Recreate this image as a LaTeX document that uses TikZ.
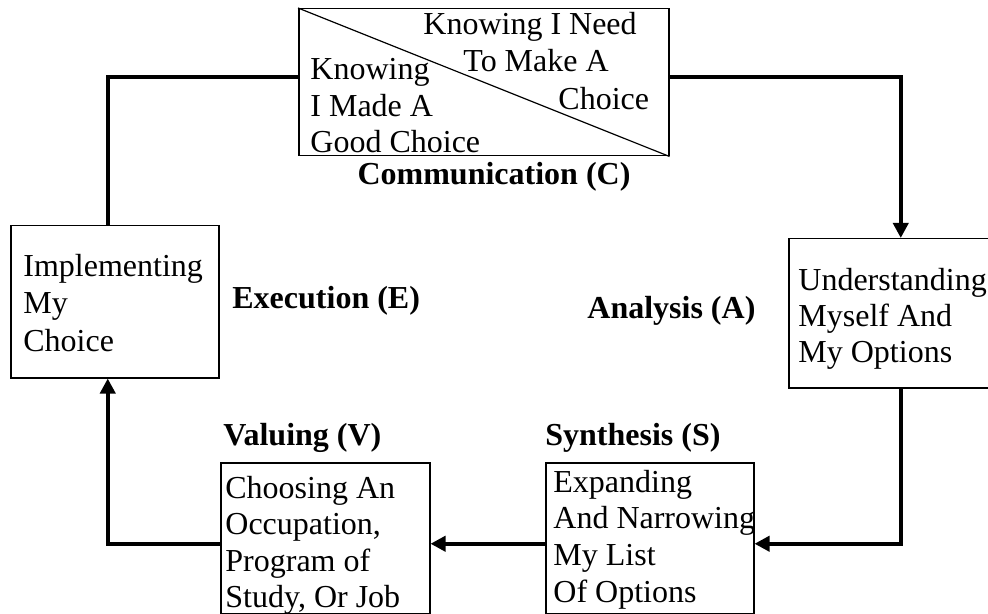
\documentclass[tikz,border=0pt]{standalone}
\usepackage{fontspec}
\setmainfont{Liberation Serif}
\usetikzlibrary{arrows.meta}
\begin{document}
\begin{tikzpicture}[x=0.5pt,y=-0.5pt,
  box/.style={draw,line width=0.75pt,inner sep=0pt,anchor=north west},
  txt/.style={inner sep=0pt,anchor=base west,font=\fontsize{16}{18.5}\selectfont},
  stage/.style={txt,font=\fontsize{16}{18.5}\selectfont\bfseries},
  link/.style={line width=2pt},
  arr/.style={link,-{Triangle[length=7.5pt,width=7.5pt]}}]
  \useasboundingbox (0,0) rectangle (988,614);
  % boxes
  \node[box,minimum width=185pt,minimum height=73.5pt] (comm) at (298,8) {};
  \node[box,minimum width=104pt,minimum height=76pt] (impl) at (10,225) {};
  \node[box,minimum width=112pt,minimum height=74.5pt] (anal) at (788,238) {};
  \node[box,minimum width=104pt,minimum height=75.5pt] (syn) at (545,462) {};
  \node[box,minimum width=104.5pt,minimum height=75.5pt] (val) at (220,462) {};
  \draw[line width=0.6pt] (comm.north west) -- (comm.south east);

  % connectors
  \draw[link] ([yshift=2.5pt]comm.west) -| ([xshift=-3.5pt]impl.north);
  \draw[arr] ([yshift=2.5pt]comm.east) -| (anal.north);
  \draw[arr] (anal.south) |- ([yshift=-2.75pt]syn.east);
  \draw[arr] ([yshift=-2.75pt]syn.west) -- ([yshift=-2.75pt]val.east);
  \draw[arr] ([yshift=-2.75pt]val.west) -| ([xshift=-3.5pt]impl.south);

  % box texts
  \node[txt] (need1) at (423,35) {Knowing I Need};
  \node[txt] (need2) at (463,72) {To Make A};
  \node[txt] (need3) at (558,110) {Choice};
  \foreach \t [count=\i] in {Knowing,I Made A,Good Choice}
    \node[txt] (made\i) at (310,{80+36.5*(\i-1)}) {\t};
  \foreach \t [count=\i] in {Implementing,My,Choice}
    \node[txt] (impl\i) at (23,{277+37*(\i-1)}) {\t};
  \foreach \t [count=\i] in {Understanding,Myself And,My Options}
    \node[txt] (anal\i) at (798,{290+36*(\i-1)}) {\t};
  \foreach \t [count=\i] in {Choosing An,{Occupation,},Program of,{Study, Or Job}}
    \node[txt] (val\i) at (225,{498+36.5*(\i-1)}) {\t};
  \foreach \t [count=\i] in {Expanding,And Narrowing,My List,Of Options}
    \node[txt] (syn\i) at (553,{492+36.7*(\i-1)}) {\t};

  % stage labels
  \node[stage,anchor=base] (lblc) at (494,185) {Communication (C)};
  \node[stage] (lble) at (232,308) {Execution (E)};
  \node[stage] (lbla) at (587,318) {Analysis (A)};
  \node[stage] (lblv) at (223,445) {Valuing (V)};
  \node[stage] (lbls) at (545,445) {Synthesis (S)};
\end{tikzpicture}
\end{document}
